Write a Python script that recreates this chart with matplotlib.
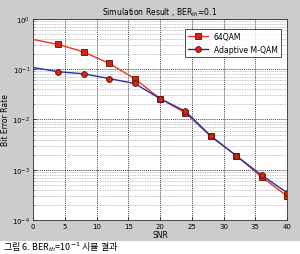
import matplotlib

matplotlib.use("Agg")
import matplotlib.pyplot as plt
from matplotlib.patches import Rectangle

snr = [0, 4, 8, 12, 16, 20, 24, 28, 32, 36, 40]
ber_64qam = [0.39, 0.31, 0.22, 0.13, 0.065, 0.026, 0.0135, 0.0046, 0.0019, 0.00072, 0.00030]
ber_adaptive = [0.108, 0.089, 0.081, 0.065, 0.052, 0.026, 0.0145, 0.0047, 0.0019, 0.00078, 0.00035]
x_ticks = [0, 5, 10, 15, 20, 25, 30, 35, 40]
y_ticks = [1e-4, 1e-3, 1e-2, 1e-1, 1e0]

plt.rcParams["font.family"] = ["DejaVu Sans"]

fig = plt.figure(figsize=(3.0, 2.55), dpi=100)
fig.patch.set_facecolor("white")
# matlab-style grey figure area, caption strip below stays white
fig.patches.append(Rectangle((0, 0.051), 1, 0.949, transform=fig.transFigure,
                             facecolor="#cccccc", edgecolor="none", zorder=-10))

ax = fig.add_axes([0.11, 0.133, 0.847, 0.789])
ax.set_zorder(5)
ax.set_facecolor("white")

ax.semilogy(snr, ber_64qam, color="#ee3322", lw=1.0, marker="s", ms=4.2,
            mfc="#dd2211", mec="#551100", mew=0.6, markevery=slice(1, None),
            label="64QAM", zorder=3)
ax.semilogy(snr, ber_adaptive, color="#2233aa", lw=1.0, marker="o", ms=4.2,
            mfc="#dd2211", mec="#551100", mew=0.6, markevery=slice(1, None),
            label="Adaptive M-QAM", zorder=3)

ax.set_xlim(0, 40)
ax.set_ylim(1e-4, 1e0)
ax.set_xticks(x_ticks)
ax.set_yticks(y_ticks)
ax.tick_params(axis="both", which="both", direction="in", labelsize=5, pad=2,
               length=2, width=0.5)
ax.tick_params(axis="y", which="minor", length=1)

ax.grid(True, which="major", color="black", linestyle=(0, (1.5, 1.5)), lw=0.5)
ax.grid(True, which="minor", axis="y", color="#888888", linestyle=(0, (1.5, 1.5)), lw=0.4)
for s in ax.spines.values():
    s.set_linewidth(0.6)
    s.set_color("#333333")

ax.set_title("Simulation Result , BER$_{th}$=0.1", fontsize=5.5, pad=3)
ax.set_xlabel("SNR", fontsize=5.5, labelpad=1)
ax.set_ylabel("Bit Error Rate", fontsize=5.5, labelpad=2)

leg = ax.legend(loc="upper right", fontsize=5.5, frameon=True, fancybox=False,
                edgecolor="black", borderpad=0.4, handlelength=2.6,
                labelspacing=0.5, bbox_to_anchor=(0.99, 0.97))
leg.get_frame().set_linewidth(0.6)

fig.text(0.01, 0.004, "그림 6. BER$_{th}$=10$^{-1}$ 시뮬 결과", fontsize=6.5, va="bottom",
         ha="left", family=["Noto Sans CJK KR", "DejaVu Sans"])

fig.savefig("out.png", dpi=100)
